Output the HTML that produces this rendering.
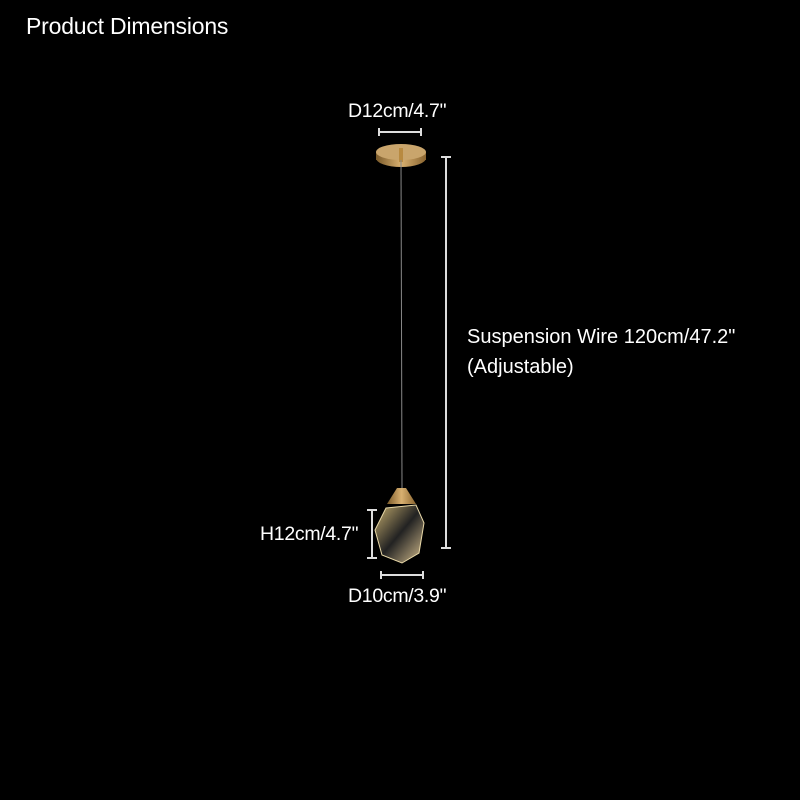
<!DOCTYPE html>
<html><head><style>
body{margin:0;background:#000;width:800px;height:800px;overflow:hidden;position:relative;font-family:"Liberation Sans",sans-serif;color:#fff}
.t{position:absolute;white-space:nowrap}
</style></head><body>
<div class="t" style="left:26px;top:13px;font-size:23px;letter-spacing:-0.2px">Product Dimensions</div>
<div class="t" style="left:348px;top:100px;font-size:19.5px;letter-spacing:-0.3px">D12cm/4.7"</div>
<div class="t" style="left:467px;top:322px;font-size:20px;line-height:30px">Suspension Wire 120cm/47.2"<br>(Adjustable)</div>
<div class="t" style="left:260px;top:523px;font-size:19.5px;letter-spacing:-0.3px">H12cm/4.7"</div>
<div class="t" style="left:348px;top:585px;font-size:19.5px;letter-spacing:-0.3px">D10cm/3.9"</div>
<svg width="800" height="800" style="position:absolute;left:0;top:0">
<g stroke="#ddd" stroke-width="2" fill="none">
<path d="M379 128v8M379 132h42M421 128v8"/>
<path d="M441 157h10M446 157v391M441 548h10"/>
<path d="M367 510h10M372 510v48M367 558h10"/>
<path d="M381 571v8M381 575h42M423 571v8"/>
</g>
<defs><linearGradient id="g" x1="0" x2="1"><stop offset="0" stop-color="#7a5a2a"/><stop offset=".5" stop-color="#d8b070"/><stop offset="1" stop-color="#8a6530"/></linearGradient>
<linearGradient id="c" x1="0" x2="1" y1="0" y2="1"><stop offset="0" stop-color="#c8b070"/><stop offset=".5" stop-color="#222"/><stop offset="1" stop-color="#d8c090"/></linearGradient></defs>
<ellipse cx="401" cy="158" rx="25" ry="9" fill="url(#g)"/>
<rect x="376" y="152" width="50" height="8" fill="url(#g)"/>
<ellipse cx="401" cy="152" rx="25" ry="8" fill="#c9a56c"/>
<rect x="399" y="148" width="4" height="14" fill="#b88a40"/>
<line x1="401" y1="160" x2="402" y2="488" stroke="#888" stroke-width="1"/>
<path d="M397 488h9l10 16h-29z" fill="url(#g)"/>
<path d="M386 508l30-3 8 18-5 30-17 10-20-8-7-25z" fill="url(#c)" stroke="#e8d8a8" stroke-width="1"/>
</svg>
</body></html>
